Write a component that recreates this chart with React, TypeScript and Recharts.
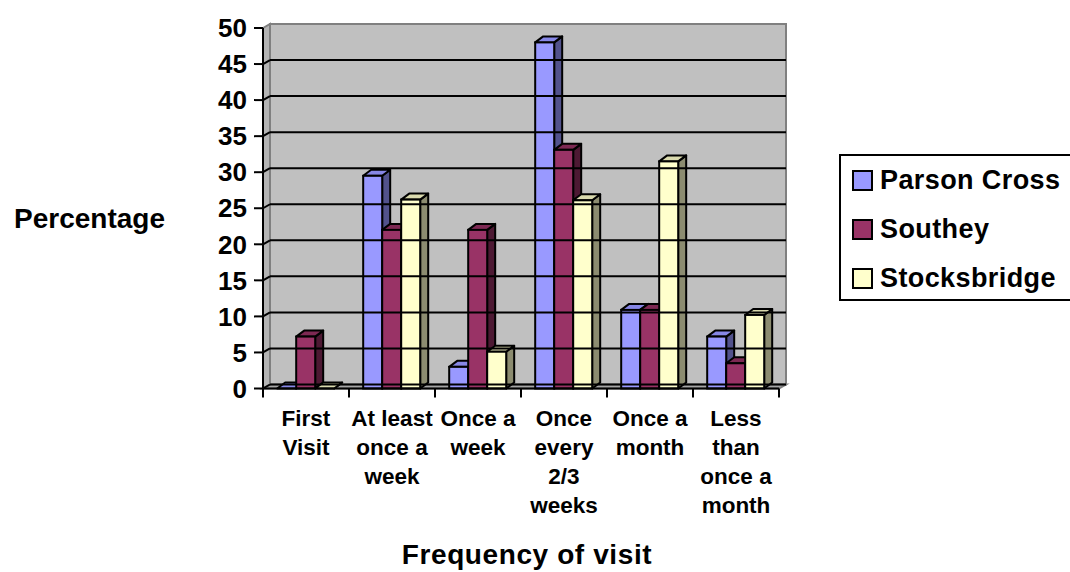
import React from 'react';
import { BarChart, Bar, XAxis, YAxis, ReferenceArea, ReferenceLine, Legend, Label } from 'recharts';

const FONT = "'Liberation Sans', Arial, sans-serif";

// categories (line breaks as in the original axis)
const categories = [
  'First\nVisit',
  'At least\nonce a\nweek',
  'Once a\nweek',
  'Once\nevery\n2/3\nweeks',
  'Once a\nmonth',
  'Less\nthan\nonce a\nmonth',
];

const parsonCross = [0, 29.5, 3, 48, 10.9, 7.2];
const southey = [7.2, 22, 22, 33.1, 10.9, 3.5];
const stocksbridge = [0, 26.2, 5.1, 26.1, 31.5, 10.2];

const yTicks = [0, 5, 10, 15, 20, 25, 30, 35, 40, 45, 50];

const seriesNames = ['Parson Cross', 'Southey', 'Stocksbridge'];
const seriesKeys = ['parson', 'southey', 'stocks'];
const frontColors = ['#9999FF', '#993366', '#FFFFCC'];
const topColors = ['#8787E6', '#7D2953', '#DADAAE'];
const sideColors = ['#52528C', '#4D1933', '#8C8C70'];

const data = categories.map((category, i) => ({
  category,
  parson: parsonCross[i],
  southey: southey[i],
  stocks: stocksbridge[i],
}));

// 3d depth
const BAR_DX = 8;
const BAR_DY = -6;
const WALL_DX = 7;
const WALL_DY = -4;

const make3DBar = (front: string, top: string, side: string) => (props: any) => {
  const { x, y, width, height } = props;
  if (x == null || y == null) return <g />;
  const h = Math.max(height || 0, 0);
  const r = x + width;
  return (
    <g>
      <polygon
        points={`${r},${y} ${r + BAR_DX},${y + BAR_DY} ${r + BAR_DX},${y + h + BAR_DY} ${r},${y + h}`}
        fill={side}
        stroke="#000"
        strokeWidth={2}
        strokeLinejoin="round"
      />
      <polygon
        points={`${x},${y} ${x + BAR_DX},${y + BAR_DY} ${r + BAR_DX},${y + BAR_DY} ${r},${y}`}
        fill={top}
        stroke="#000"
        strokeWidth={2}
        strokeLinejoin="round"
      />
      {h > 0 && <rect x={x} y={y} width={width} height={h} fill={front} stroke="#000" strokeWidth={2} />}
    </g>
  );
};

const WallShape = (props: any) => {
  const { x, y, width, height } = props;
  const b = y + height;
  const r = x + width;
  return (
    <g>
      <rect x={x + WALL_DX} y={y + WALL_DY} width={width} height={height} fill="#C0C0C0" stroke="#808080" strokeWidth={2} />
      <polygon
        points={`${x},${y} ${x + WALL_DX},${y + WALL_DY} ${x + WALL_DX},${b + WALL_DY} ${x},${b}`}
        fill="#B4B4B4"
        stroke="#808080"
        strokeWidth={2}
      />
      <polygon
        points={`${x},${b} ${r},${b} ${r + WALL_DX},${b + WALL_DY} ${x + WALL_DX},${b + WALL_DY}`}
        fill="#A6A6A6"
        stroke="#808080"
        strokeWidth={2}
      />
    </g>
  );
};

const GridLineShape = (props: any) => {
  const { x1, y1, x2, y2 } = props;
  if (x1 == null) return <g />;
  return (
    <g>
      <line x1={x1} y1={y1} x2={x1 + WALL_DX} y2={y1 + WALL_DY} stroke="#000" strokeWidth={2} />
      <line x1={x1 + WALL_DX} y1={y1 + WALL_DY} x2={x2 + WALL_DX} y2={y2 + WALL_DY} stroke="#000" strokeWidth={2} />
    </g>
  );
};

const CategoryTick = (props: any) => {
  const { x, y, payload, index, width } = props;
  const lines = String(payload.value).split('\n');
  const half = width ? width / categories.length / 2 : payload.offset || 0;
  return (
    <g>
      <line x1={x - half} y1={y - 9} x2={x - half} y2={y} stroke="#000" strokeWidth={2} />
      {index === categories.length - 1 && (
        <line x1={x + half} y1={y - 9} x2={x + half} y2={y} stroke="#000" strokeWidth={2} />
      )}
      <text textAnchor="middle" fontFamily={FONT} fontSize={22.5} fontWeight="bold" fill="#000">
        {lines.map((line, i) => (
          <tspan key={i} x={x} y={y + 28 + i * 29}>
            {line}
          </tspan>
        ))}
      </text>
    </g>
  );
};

const renderYTitle = (props: any) => {
  const vb = props.viewBox || {};
  return (
    <text x={vb.x - 18} y={vb.y + vb.height / 2 + 20} textAnchor="end" fontFamily={FONT} fontSize={28} fontWeight="bold" fill="#000">
      Percentage
    </text>
  );
};

const renderXTitle = (props: any) => {
  const vb = props.viewBox || {};
  return (
    <text
      x={vb.x + vb.width / 2 + 6}
      y={vb.y + 175}
      textAnchor="middle"
      fontFamily={FONT}
      fontSize={28}
      fontWeight="bold"
      letterSpacing={0.6}
      fill="#000"
    >
      Frequency of visit
    </text>
  );
};

const renderLegend = () => (
  <div
    style={{
      border: '2px solid #000',
      background: '#fff',
      width: 240,
      height: 147,
      boxSizing: 'border-box',
      fontFamily: FONT,
      fontWeight: 'bold',
      fontSize: 27,
      color: '#000',
      paddingTop: 0,
    }}
  >
    {seriesNames.map((name, i) => (
      <div key={name} style={{ display: 'flex', alignItems: 'center', height: 49, paddingLeft: 11 }}>
        <span
          style={{
            display: 'inline-block',
            width: 21,
            height: 21,
            boxSizing: 'border-box',
            border: '2px solid #000',
            background: frontColors[i],
            marginRight: 7,
          }}
        />
        <span style={{ letterSpacing: 0.4 }}>{name}</span>
      </div>
    ))}
  </div>
);

export default function App() {
  return (
    <div style={{ width: 1070, height: 572, overflow: 'hidden', background: '#fff', position: 'relative' }}>
      <style>{'body { margin: 0; }'}</style>
      <BarChart
        width={1070}
        height={572}
        data={data}
        margin={{ top: 28, right: 291, bottom: 33.5, left: 183 }}
        barCategoryGap="16.5%"
        barGap={0}
      >
        <ReferenceArea y1={0} y2={50} shape={WallShape} ifOverflow="visible" />
        {yTicks
          .filter((v) => v < 50)
          .map((v) => (
            <ReferenceLine key={v} y={v} shape={GridLineShape} ifOverflow="visible" />
          ))}
        <XAxis
          dataKey="category"
          height={150}
          interval={0}
          tickLine={false}
          tickSize={9}
          tickMargin={0}
          axisLine={{ stroke: '#000', strokeWidth: 2 }}
          tick={<CategoryTick />}
        >
          <Label content={renderXTitle} />
        </XAxis>
        <YAxis
          type="number"
          domain={[0, 50]}
          ticks={yTicks}
          interval={0}
          width={80}
          tickSize={9}
          tickMargin={7}
          axisLine={{ stroke: '#000', strokeWidth: 2 }}
          tickLine={{ stroke: '#000', strokeWidth: 2 }}
          tick={{ fontSize: 26, fontWeight: 'bold', fill: '#000', fontFamily: FONT }}
        >
          <Label content={renderYTitle} />
        </YAxis>
        <Legend
          layout="horizontal"
          verticalAlign="middle"
          content={renderLegend}
          wrapperStyle={{ left: 839, top: 154, width: 240, height: 147 }}
        />
        {seriesKeys.map((key, i) => (
          <Bar
            key={key}
            dataKey={key}
            name={seriesNames[i]}
            fill={frontColors[i]}
            shape={make3DBar(frontColors[i], topColors[i], sideColors[i])}
            isAnimationActive={false}
          />
        ))}
      </BarChart>
    </div>
  );
}
